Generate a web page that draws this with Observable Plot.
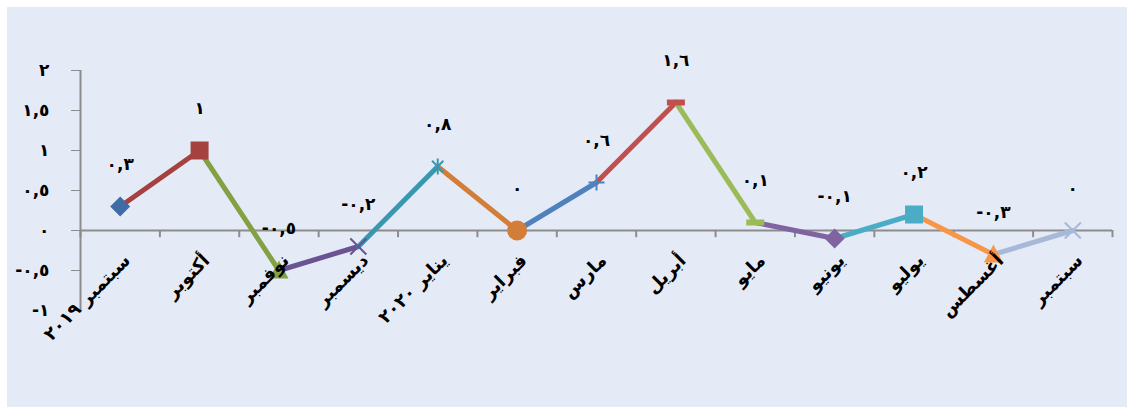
<!DOCTYPE html>
<html>
<head>
<meta charset="utf-8">
<script src="https://cdn.jsdelivr.net/npm/d3@7"></script>
<script src="https://cdn.jsdelivr.net/npm/@observablehq/plot@0.6"></script>
<style>
  html, body { margin: 0; padding: 0; background: #ffffff; }
  #wrap { position: relative; width: 1134px; height: 414px; overflow: hidden; }
  #bg { position: absolute; left: 7px; top: 7px; width: 1120px; height: 400px; background: #E5EAF7; }
  #chart { position: absolute; left: 0; top: 0; }
</style>
</head>
<body>
<div id="wrap"><div id="bg"></div><div id="chart"></div></div>
<script>
// ---- data ----
const months = ["سبتمبر ٢٠١٩", "أكتوبر", "نوفمبر", "ديسمبر", "يناير ٢٠٢٠", "فبراير", "مارس", "أبريل", "مايو", "يونيو", "يوليو", "أغسطس", "سبتمبر"];
const values = [0.3, 1, -0.5, -0.2, 0.8, 0, 0.6, 1.6, 0.1, -0.1, 0.2, -0.3, 0];
const pointColors = ["#3F6CA5", "#A5413E", "#83A042", "#6B5293", "#3A97B0", "#D37E38", "#4F81BD", "#C0504D", "#9BBB59", "#8064A2", "#4BACC6", "#F79646", "#A7B8D8"];
const markerShapes = ["diamond", "square", "triangle", "times", "asterisk", "circle", "plus", "dash", "dash", "diamond", "square", "triangle", "times"];
const yTicks = [-1, -0.5, 0, 0.5, 1, 1.5, 2];

// ---- helpers ----
const arabicDigits = "٠١٢٣٤٥٦٧٨٩";
function fmt(v) {
  const s = String(Math.abs(Math.round(v * 10) / 10)).replace(".", ",").replace(/[0-9]/g, d => arabicDigits[+d]);
  return (v < 0 ? "-" : "") + s;
}

const symbolDefs = {
  diamond: {draw(ctx) { const r = 10; ctx.moveTo(0, -r); ctx.lineTo(r, 0); ctx.lineTo(0, r); ctx.lineTo(-r, 0); ctx.closePath(); }},
  square: {draw(ctx) { const r = 9; ctx.rect(-r, -r, 2 * r, 2 * r); }},
  triangle: {draw(ctx) { ctx.moveTo(0, -10); ctx.lineTo(9.5, 8); ctx.lineTo(-9.5, 8); ctx.closePath(); }},
  circle: {draw(ctx) { ctx.moveTo(10, 0); ctx.arc(0, 0, 10, 0, 2 * Math.PI); }},
  dash: {draw(ctx) { ctx.rect(-9, -3, 18, 6); }},
  times: {draw(ctx) { const r = 8; ctx.moveTo(-r, -r); ctx.lineTo(r, r); ctx.moveTo(r, -r); ctx.lineTo(-r, r); }},
  plus: {draw(ctx) { const r = 8; ctx.moveTo(-r, 0); ctx.lineTo(r, 0); ctx.moveTo(0, -r); ctx.lineTo(0, r); }},
  asterisk: {draw(ctx) { const r = 8, a = 5.7; ctx.moveTo(-a, -a); ctx.lineTo(a, a); ctx.moveTo(a, -a); ctx.lineTo(-a, a); ctx.moveTo(0, -r); ctx.lineTo(0, r); }}
};
const strokedShapes = new Set(["times", "plus", "asterisk"]);

const points = values.map((v, i) => ({i, v, month: months[i], color: pointColors[i], shape: markerShapes[i]}));
const segments = points.slice(1).map((p, k) => ({x1: k, y1: values[k], x2: p.i, y2: p.v, color: p.color}));
const boundaries = d3.range(months.length + 1).map(k => k - 0.5);

const font = "'DejaVu Sans', 'Noto Sans', sans-serif";
const axisColor = "#8C8C8C";

const markerMarks = points.map(p => Plot.dot([p], {
  x: "i", y: "v",
  symbol: symbolDefs[p.shape], r: 5,
  fill: strokedShapes.has(p.shape) ? "none" : p.color,
  stroke: strokedShapes.has(p.shape) ? p.color : "none",
  strokeWidth: 2
}));

const chart = Plot.plot({
  width: 1134,
  height: 414,
  marginLeft: 80,
  marginRight: 22,
  marginTop: 70,
  marginBottom: 104,
  style: {background: "transparent", fontFamily: font, fontSize: "16px", color: "#000"},
  x: {type: "linear", domain: [-0.5, months.length - 0.5], axis: null},
  y: {type: "linear", domain: [-1, 2], axis: null},
  marks: [
    Plot.axisY({ticks: yTicks, tickFormat: fmt, tickSize: 9, tickPadding: 22, stroke: axisColor, fill: "#000", fontSize: 17, fontWeight: "bold"}),
    Plot.ruleX([-0.5], {y1: -1, y2: 2, stroke: axisColor, strokeWidth: 2}),
    Plot.ruleY([0], {x1: -0.5, x2: months.length - 0.5, stroke: axisColor, strokeWidth: 2}),
    Plot.ruleX(boundaries, {x: d => d, y1: 0, y2: -0.09, stroke: axisColor, strokeWidth: 2}),
    Plot.link(segments, {x1: "x1", y1: "y1", x2: "x2", y2: "y2", stroke: "color", strokeWidth: 5, strokeLinecap: "round"}),
    ...markerMarks,
    Plot.text(points, {x: "i", y: "v", text: d => fmt(d.v), dy: -42, fill: "#000", fontSize: 17, fontWeight: "bold"}),
    Plot.text(points, {x: "i", y: () => 0, text: "month", rotate: -45, textAnchor: "end", dx: 7, dy: 27, fill: "#000", fontSize: 18, fontWeight: "bold"})
  ]
});
document.getElementById("chart").appendChild(chart);
</script>
</body>
</html>
